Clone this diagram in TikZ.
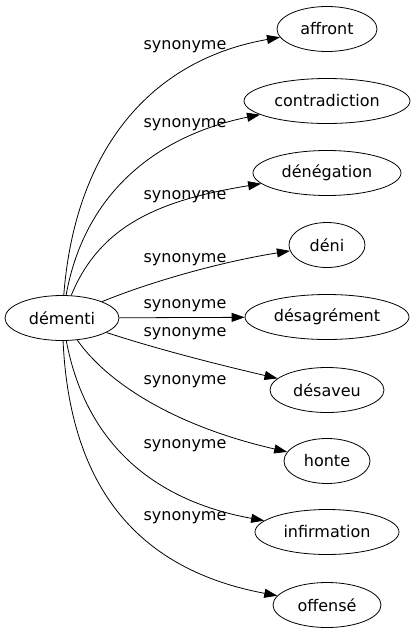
\documentclass[tikz,border=0pt]{standalone}
\usepackage{fontspec}
\setmainfont{DejaVu Sans}
\usetikzlibrary{arrows.meta,shapes.geometric}
\begin{document}
\begin{tikzpicture}[x=1pt,y=-1pt,
  word/.style={draw,ellipse,inner sep=0pt,minimum height=45pt,line width=0.8pt,font=\fontsize{16}{19}\selectfont},
  rel/.style={font=\fontsize{16}{19}\selectfont,inner sep=0pt},
  syn/.style={draw,line width=0.8pt,-{Triangle[length=13pt,width=9pt]}}]
\useasboundingbox (0,0) rectangle (415,635);
\node[word,minimum width=114pt] (d) at (62,318) {démenti};
\node[word,minimum width=100pt] (n1) at (327,29) {affront};
\node[word,minimum width=166pt] (n2) at (327,101) {contradiction};
\node[word,minimum width=148pt] (n3) at (327,173) {dénégation};
\node[word,minimum width=76pt] (n4) at (327,245) {déni};
\node[word,minimum width=164pt] (n5) at (327,317) {désagrément};
\node[word,minimum width=114pt] (n6) at (327,390) {désaveu};
\node[word,minimum width=86pt] (n7) at (327,461) {honte};
\node[word,minimum width=144pt] (n8) at (327,532) {infirmation};
\node[word,minimum width=108pt] (n9) at (327,605) {offensé};
\draw[syn] (d) .. controls (75,150) and (150,60) .. (n1);
\draw[syn] (d) .. controls (85,190) and (160,135) .. (n2);
\draw[syn] (d) .. controls (100,225) and (160,200) .. (n3);
\draw[syn] (d) .. controls (150,282) and (220,262) .. (n4);
\draw[syn] (d) -- (n5);
\draw[syn] (d) .. controls (160,350) and (220,365) .. (n6);
\draw[syn] (d) .. controls (105,380) and (170,425) .. (n7);
\draw[syn] (d) .. controls (85,440) and (150,500) .. (n8);
\draw[syn] (d) .. controls (70,490) and (140,570) .. (n9);
\node[rel] (l1) at (185,47) {synonyme};
\node[rel] (l2) at (185,125) {synonyme};
\node[rel] (l3) at (185,197) {synonyme};
\node[rel] (l4) at (185,260) {synonyme};
\node[rel] (l5) at (185,306) {synonyme};
\node[rel] (l6) at (185,334) {synonyme};
\node[rel] (l7) at (185,382) {synonyme};
\node[rel] (l8) at (185,446) {synonyme};
\node[rel] (l9) at (185,518) {synonyme};
\end{tikzpicture}
\end{document}
